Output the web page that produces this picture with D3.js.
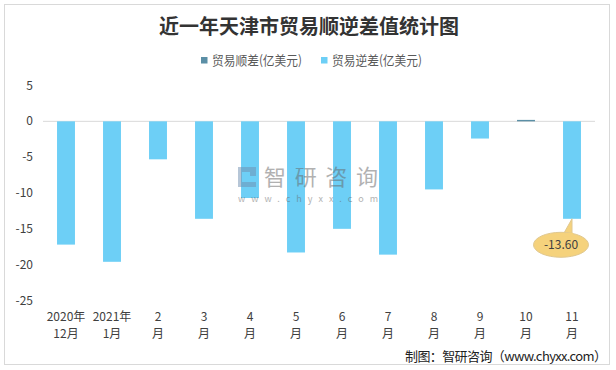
<!DOCTYPE html>
<html>
<head>
<meta charset="utf-8">
<script src="https://cdn.jsdelivr.net/npm/d3@7/dist/d3.min.js"></script>
<style>
	body { margin: 0; background: #fff; }
	text { font-family: "Noto Sans CJK SC", "Microsoft YaHei", sans-serif; fill: #333; }
</style>
</head>
<body>
<svg id="chart"></svg>
<script>
// Chart data
var months = ["2020年\n12月", "2021年\n1月", "2\n月", "3\n月", "4\n月", "5\n月", "6\n月", "7\n月", "8\n月", "9\n月", "10\n月", "11\n月"];
var surplus = [0, 0, 0, 0, 0, 0, 0, 0, 0, 0, 0.2, 0];
var deficit = [-17.2, -19.6, -5.3, -13.6, -10.7, -18.3, -15.0, -18.6, -9.5, -2.4, 0, -13.6];
var yTicks = [5, 0, -5, -10, -15, -20, -25];
var seriesNames = ["贸易顺差(亿美元)", "贸易逆差(亿美元)"];
var colors = ["#5b8fa6", "#6dcff6"];

var width = 616,
	height = 370;

var svg = d3.select("#chart")
	.attr("width", width)
	.attr("height", height);

// Border
svg.append("rect")
	.attr("x", 4.5).attr("y", 4.5)
	.attr("width", 605).attr("height", 360)
	.attr("fill", "#fff")
	.attr("stroke", "#d9d9d9");

// Title
svg.append("text")
	.attr("x", 309).attr("y", 34)
	.attr("text-anchor", "middle")
	.style("font-size", "20px")
	.style("font-weight", "bold")
	.text("近一年天津市贸易顺逆差值统计图");

// Legend
var legend = svg.append("g");
[201, 321].forEach(function(x, i){
	legend.append("rect")
		.attr("x", x).attr("y", 57)
		.attr("width", 6.5).attr("height", 6.5)
		.attr("fill", colors[i]);
	legend.append("text")
		.attr("x", x + 11).attr("y", 65)
		.attr("textLength", 90)
		.attr("lengthAdjust", "spacingAndGlyphs")
		.style("font-size", "13px")
		.style("fill", "#595959")
		.text(seriesNames[i]);
});

// Scales
var x = d3.scaleBand()
	.domain(d3.range(months.length))
	.range([43, 595])
	.paddingInner(0.61)
	.paddingOuter(0.305);

var y = d3.scaleLinear()
	.domain([-25, 5])
	.range([300.5, 85.5]);

// Y axis labels
svg.append("g")
	.selectAll("text")
	.data(yTicks)
	.enter()
		.append("text")
			.attr("x", 33)
			.attr("y", function(d){ return y(d) + 4; })
			.attr("text-anchor", "end")
			.style("font-size", "12px")
			.style("fill", "#404040")
			.text(function(d){ return d; });

// Zero line
svg.append("line")
	.attr("x1", 43).attr("x2", 595)
	.attr("y1", y(0)).attr("y2", y(0))
	.attr("stroke", "#d9d9d9");

// Bars
[surplus, deficit].forEach(function(series, s){
	svg.append("g")
		.selectAll("rect")
		.data(series)
		.enter()
			.append("rect")
				.attr("x", function(d, i){ return x(i); })
				.attr("y", function(d){ return y(Math.max(0, d)); })
				.attr("width", x.bandwidth())
				.attr("height", function(d){ return Math.abs(y(d) - y(0)); })
				.attr("fill", colors[s]);
});

// Watermark (over the bars)
var wm = svg.append("g").attr("opacity", 0.5);
wm.append("path")
	.attr("d", "M238,167 h18 v9 h-6 v-4 h-8 v10 h14 v5 h-18 Z")
	.attr("fill", "#6f8fb0");
wm.append("text")
	.attr("x", 264).attr("y", 185)
	.attr("textLength", 114)
	.attr("lengthAdjust", "spacing")
	.style("font-size", "22px")
	.style("fill", "#666")
	.text("智研咨询");
wm.append("text")
	.attr("x", 238).attr("y", 202)
	.attr("textLength", 140)
	.attr("lengthAdjust", "spacing")
	.style("font-size", "9px")
	.style("fill", "#666")
	.text("www.chyxx.com");

// X labels
var xl = svg.append("g")
	.selectAll("text")
	.data(months)
	.enter()
		.append("text")
			.attr("text-anchor", "middle")
			.style("font-size", "12px")
			.style("fill", "#404040");
xl.each(function(d, i){
	var t = d3.select(this);
	d.split("\n").forEach(function(line, j){
		t.append("tspan")
			.attr("x", x(i) + x.bandwidth() / 2)
			.attr("y", 321 + j * 17)
			.text(line);
	});
});

// Callout for last bar
var last = deficit.length - 1,
	cx = x(last) + x.bandwidth() / 2 - 11,
	cy = y(deficit[last]) + 26;
var callout = svg.append("g");
callout.append("path")
	.attr("d", "M" + (cx + 2) + "," + (cy - 10) + " L" + (cx + 11) + "," + y(deficit[last]) + " L" + (cx + 11) + "," + (cy - 8) + " Z")
	.attr("fill", "#f5d27c")
	.attr("stroke", "#e0c890");
callout.append("ellipse")
	.attr("cx", cx).attr("cy", cy)
	.attr("rx", 27.5).attr("ry", 12.5)
	.attr("fill", "#f5d27c")
	.attr("stroke", "#e0c890");
callout.append("rect")
	.attr("x", cx + 1).attr("y", cy - 12)
	.attr("width", 11).attr("height", 4)
	.attr("fill", "#f5d27c");
callout.append("text")
	.attr("x", cx).attr("y", cy + 4)
	.attr("text-anchor", "middle")
	.style("font-size", "12px")
	.style("fill", "#404040")
	.text(deficit[last].toFixed(2));

// Source
svg.append("text")
	.attr("x", 607).attr("y", 361)
	.attr("text-anchor", "end")
	.attr("textLength", 202)
	.attr("lengthAdjust", "spacing")
	.style("font-size", "13px")
	.style("fill", "#222")
	.text("制图：智研咨询（www.chyxx.com）");
</script>
</body>
</html>
